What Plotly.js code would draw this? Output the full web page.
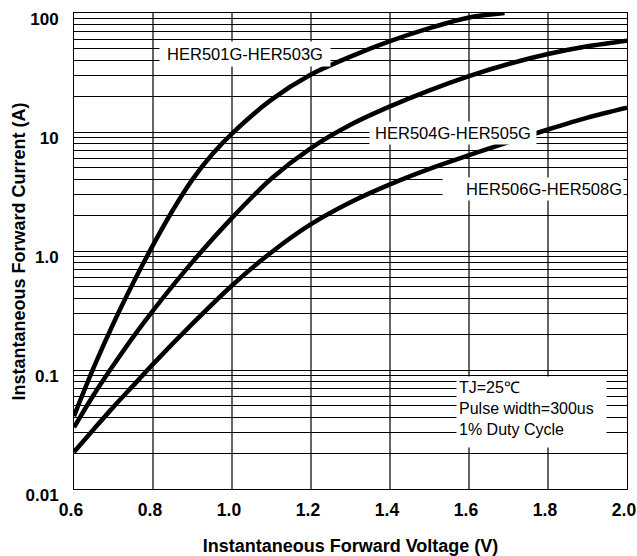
<!DOCTYPE html>
<html>
<head>
<meta charset="utf-8">
<script src="https://cdn.plot.ly/plotly-3.0.1.min.js"></script>
<style>html,body{margin:0;padding:0;background:#fff}#chart{width:637px;height:556px}</style>
</head>
<body>
<div id="chart"></div>
<script>
// Series names
const seriesNames = ["HER501G-HER503G", "HER504G-HER505G", "HER506G-HER508G"];

// Forward voltage (V) for each series
const voltage1 = [0.6, 0.65, 0.7, 0.75, 0.8, 0.85, 0.9, 0.95, 1.0, 1.1, 1.2, 1.3, 1.4, 1.5, 1.6, 1.69];
const voltage2 = [0.6, 0.65, 0.7, 0.75, 0.8, 0.9, 1.0, 1.1, 1.2, 1.3, 1.4, 1.5, 1.6, 1.7, 1.8, 1.9, 2.0];
const voltage3 = [0.6, 0.65, 0.7, 0.75, 0.8, 0.9, 1.0, 1.1, 1.2, 1.3, 1.4, 1.5, 1.6, 1.7, 1.8, 1.9, 2.0];

// Forward current (A)
const current1 = [0.041, 0.105, 0.247, 0.54, 1.12, 2.2, 4.0, 6.5, 9.7, 18.7, 30.4, 43, 58, 74.6, 91.8, 100];
const current2 = [0.033, 0.062, 0.11, 0.19, 0.316, 0.81, 1.9, 4.07, 7.33, 11.5, 16.4, 22.4, 29.5, 37.3, 45.2, 52.5, 58.5];
const current3 = [0.0205, 0.0318, 0.049, 0.074, 0.112, 0.245, 0.513, 0.977, 1.68, 2.57, 3.63, 4.9, 6.38, 8.22, 10.5, 13.2, 16.0];

// Axis ticks
const xTickVals = [0.6, 0.8, 1.0, 1.2, 1.4, 1.6, 1.8, 2.0];
const xTickText = ["0.6", "0.8", "1.0", "1.2", "1.4", "1.6", "1.8", "2.0"];
const yDecades = [0.01, 0.1, 1, 10, 100];
const yDecadeText = ["0.01", "0.1", "1.0", "10", "100"];
const yMinorDigits = [1, 2, 3, 4, 5, 6, 7, 8, 9];

// Axis titles and condition note
const xTitle = "Instantaneous Forward Voltage (V)";
const yTitle = "Instantaneous Forward Current (A)";
const noteLines = ["TJ=25\u2103", "Pulse width=300us", "1% Duty Cycle"];

const yTickVals = [];
const yTickText = [];
yDecades.forEach((d, i) => {
  if (i < yDecades.length - 1) {
    yMinorDigits.forEach(m => {
      yTickVals.push(d * m);
      yTickText.push(m === 1 ? yDecadeText[i] : "");
    });
  } else {
    yTickVals.push(d);
    yTickText.push(yDecadeText[i]);
  }
});

const lineStyle = {color: "#000", width: 4.5, shape: "spline", smoothing: 0.9};
const traces = [
  {x: voltage1, y: current1, name: seriesNames[0], mode: "lines", line: lineStyle},
  {x: voltage2, y: current2, name: seriesNames[1], mode: "lines", line: lineStyle},
  {x: voltage3, y: current3, name: seriesNames[2], mode: "lines", line: lineStyle}
];

const fontFam = "Liberation Sans, Arial, sans-serif";
const labelFont = {family: fontFam, size: 16.5, color: "#000"};
const titleFont = {family: fontFam, size: 18, color: "#000", weight: "bold"};

const layout = {
  width: 637, height: 556,
  margin: {l: 74, r: 10, t: 13, b: 67},
  paper_bgcolor: "#fff", plot_bgcolor: "#fff",
  showlegend: false,
  xaxis: {
    type: "linear", range: [0.6, 2.0],
    tickvals: xTickVals, ticktext: xTickText,
    showgrid: true, gridcolor: "#666", gridwidth: 1.3,
    zeroline: false, showline: true, linecolor: "#000", linewidth: 1, mirror: true,
    ticks: "", ticklabelstandoff: 5, ticklabelshift: -3,
    tickfont: {family: fontFam, size: 17.5, color: "#000", weight: "bold"},
    title: {text: "<b>" + xTitle + "</b>", font: titleFont, standoff: 20}
  },
  yaxis: {
    type: "log", range: [-2, 2],
    tickvals: yTickVals, ticktext: yTickText,
    showgrid: true, gridcolor: "#000", gridwidth: 1,
    zeroline: false, showline: true, linecolor: "#000", linewidth: 1, mirror: true,
    ticks: "", ticklabelstandoff: 11, ticklabelshift: 6,
    tickfont: {family: fontFam, size: 17, color: "#000", weight: "bold"}
  },
  annotations: [
    {xref: "paper", yref: "paper", x: -0.0986, y: 0.5, text: "<b>" + yTitle + "</b>", textangle: -90,
     showarrow: false, font: titleFont, xanchor: "center", yanchor: "middle"},
    {xref: "paper", yref: "paper", x: 0.309, y: 0.914, text: seriesNames[0], showarrow: false,
     font: labelFont, bgcolor: "#fff", width: 168, height: 22, borderpad: 1, xanchor: "center", yanchor: "middle"},
    {xref: "paper", yref: "paper", x: 0.685, y: 0.748, text: seriesNames[1], showarrow: false,
     font: labelFont, bgcolor: "#fff", width: 164, height: 20, borderpad: 1, xanchor: "center", yanchor: "middle"},
    {xref: "paper", yref: "paper", x: 0.830, y: 0.631, text: seriesNames[2], showarrow: false,
     font: labelFont, bgcolor: "#fff", width: 178, height: 20, borderpad: 1, align: "right", xanchor: "center", yanchor: "middle"},
    {xref: "paper", yref: "paper", x: 0.827, y: 0.162, text: noteLines.join("<br>"), showarrow: false,
     font: {family: fontFam, size: 16, color: "#000"}, bgcolor: "#fff", width: 145, height: 66, borderpad: 2,
     align: "left", valign: "top", xanchor: "center", yanchor: "middle"}
  ]
};

Plotly.newPlot("chart", traces, layout, {staticPlot: true, displayModeBar: false});
</script>
</body>
</html>
